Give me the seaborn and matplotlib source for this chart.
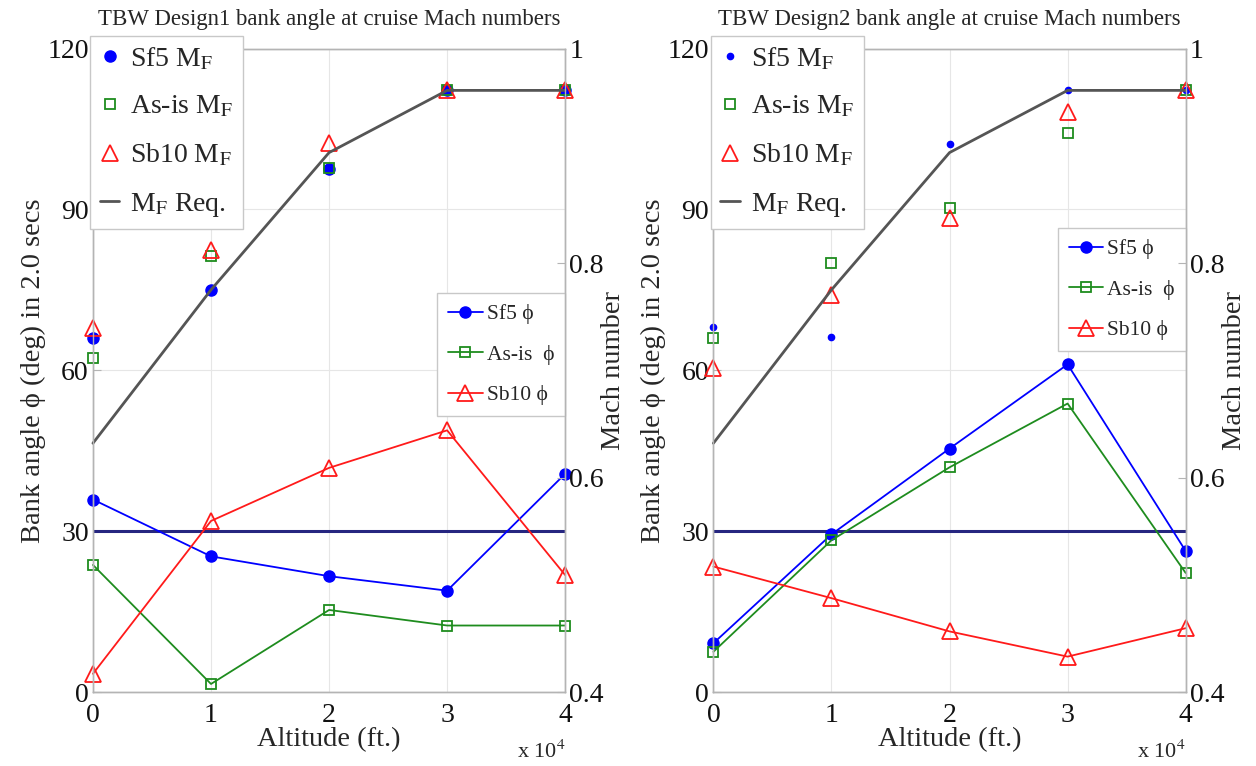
import numpy as np
import pandas as pd
import matplotlib
matplotlib.use("Agg")
import matplotlib.pyplot as plt
import seaborn as sns

# ---------------- data ----------------
altitude_ft = [0, 10000, 20000, 30000, 40000]
mach_req = [0.632, 0.775, 0.903, 0.961, 0.961]

# Design 1
d1_sf5_phi = [35.9, 25.3, 21.6, 18.9, 40.7]
d1_asis_phi = [23.7, 1.5, 15.3, 12.4, 12.4]
d1_sb10_phi = [3.4, 31.9, 41.8, 48.8, 21.8]
d1_sf5_mf = [0.730, 0.775, 0.888, 0.961, 0.961]
d1_asis_mf = [0.711, 0.807, 0.889, 0.961, 0.961]
d1_sb10_mf = [0.739, 0.812, 0.912, 0.961, 0.961]

# Design 2
d2_sf5_phi = [9.1, 29.4, 45.4, 61.1, 26.3]
d2_asis_phi = [7.5, 28.3, 41.9, 53.8, 22.2]
d2_sb10_phi = [23.4, 17.5, 11.3, 6.6, 11.9]
d2_sf5_mf = [0.740, 0.731, 0.911, 0.961, 0.961]
d2_asis_mf = [0.730, 0.800, 0.851, 0.921, 0.961]
d2_sb10_mf = [0.702, 0.770, 0.842, 0.941, 0.961]

phi_limit = 30
titles = ["TBW Design1 bank angle at cruise Mach numbers",
          "TBW Design2 bank angle at cruise Mach numbers"]
y_ticks = [0, 30, 60, 90, 120]
mach_ticks = [0.4, 0.6, 0.8, 1.0]
mach_ticklabels = ["0.4", "0.6", "0.8", "1"]
x_ticks = [0, 1, 2, 3, 4]

# ---------------- style ----------------
sns.set_style("white")
plt.rcParams["font.family"] = ["Liberation Serif", "DejaVu Serif"]
plt.rcParams["mathtext.fontset"] = "stix"

BLUE = "#0000ff"
GREEN = "#1e8c1e"
RED = "#ff1a1a"
GRAY = "#555555"
NAVY = "#262680"
SPINE = "#b4b4b4"

fig = plt.figure(figsize=(12.56, 7.66), dpi=100)
positions = [[0.074, 0.0966, 0.376, 0.840], [0.568, 0.0966, 0.376, 0.840]]

designs = [
    (d1_sf5_phi, d1_asis_phi, d1_sb10_phi, d1_sf5_mf, d1_asis_mf, d1_sb10_mf),
    (d2_sf5_phi, d2_asis_phi, d2_sb10_phi, d2_sf5_mf, d2_asis_mf, d2_sb10_mf),
]
sf5_mf_size = [8, 4.5]
phi_leg_anchor = [(1.0, 0.6196), (1.0, 0.7205)]

x = np.array(altitude_ft) / 1e4

for i, (sf5, asis, sb10, sf5m, asism, sb10m) in enumerate(designs):
    ax = fig.add_axes(positions[i])
    ax2 = ax.twinx()

    # phi lines
    sns.lineplot(x=x, y=sf5, ax=ax, color=BLUE, lw=1.3, marker="o",
                 markersize=8, markerfacecolor=BLUE, markeredgecolor=BLUE,
                 markeredgewidth=1, label="Sf5 ϕ", clip_on=False)
    sns.lineplot(x=x, y=asis, ax=ax, color=GREEN, lw=1.3, marker="s",
                 markersize=7.5, markerfacecolor="none", markeredgecolor=GREEN,
                 markeredgewidth=1.3, label="As-is  ϕ", clip_on=False)
    sns.lineplot(x=x, y=sb10, ax=ax, color=RED, lw=1.3, marker="^",
                 markersize=12, markerfacecolor="none", markeredgecolor=RED,
                 markeredgewidth=1.3, label="Sb10 ϕ", clip_on=False)
    ax.axhline(phi_limit, color=NAVY, lw=2.2, zorder=1)

    # Mach points
    sns.lineplot(x=x, y=sf5m, ax=ax2, color=BLUE, linestyle="none", marker="o",
                 markersize=sf5_mf_size[i], markerfacecolor=BLUE,
                 markeredgecolor=BLUE, markeredgewidth=1,
                 label="Sf5 M$_\\mathrm{F}$", clip_on=False)
    sns.lineplot(x=x, y=asism, ax=ax2, color=GREEN, linestyle="none", marker="s",
                 markersize=7.5, markerfacecolor="none", markeredgecolor=GREEN,
                 markeredgewidth=1.3, label="As-is M$_\\mathrm{F}$", clip_on=False)
    sns.lineplot(x=x, y=sb10m, ax=ax2, color=RED, linestyle="none", marker="^",
                 markersize=12, markerfacecolor="none", markeredgecolor=RED,
                 markeredgewidth=1.3, label="Sb10 M$_\\mathrm{F}$", clip_on=False)
    sns.lineplot(x=x, y=mach_req, ax=ax2, color=GRAY, lw=2,
                 label="M$_\\mathrm{F}$ Req.", clip_on=False)

    ax.set_xlim(0, 4)
    ax.set_ylim(0, 120)
    ax2.set_ylim(0.4, 1.0)
    ax.set_xticks(x_ticks)
    ax.set_yticks(y_ticks)
    ax2.set_yticks(mach_ticks)
    ax2.set_yticklabels(mach_ticklabels)

    ax.grid(True, color="#e6e6e6", lw=0.8)
    for a in (ax, ax2):
        for s in a.spines.values():
            s.set_color(SPINE)
            s.set_linewidth(1)
        a.tick_params(direction="in", length=6, color=SPINE, labelsize=20,
                      labelcolor="#111111", pad=3)
    ax.tick_params(axis="x", pad=8)

    ax.set_xlabel("Altitude (ft.)", fontsize=20.5, labelpad=-1)
    ax.set_ylabel("Bank angle ϕ (deg) in 2.0 secs", fontsize=20.5, labelpad=1)
    ax2.set_ylabel("Mach number", fontsize=20.5, labelpad=-2)
    ax.set_title(titles[i], fontsize=16.5, pad=17)

    ax.text(1.0, -0.093, "x 10$^4$", transform=ax.transAxes, ha="right",
            va="center", fontsize=16)

    # legends
    ax.legend(loc="upper right", bbox_to_anchor=phi_leg_anchor[i], fontsize=15.5,
              frameon=True, fancybox=False, edgecolor="#c8c8c8",
              handlelength=1.6, handletextpad=0.2, borderpad=0.5,
              labelspacing=0.95, borderaxespad=0, framealpha=1)
    ax2.legend(loc="upper left", bbox_to_anchor=(-0.006, 1.02), fontsize=20,
               frameon=True, fancybox=False, edgecolor="#c8c8c8",
               handlelength=0.7, handletextpad=0.4, borderpad=0.35,
               labelspacing=0.8, borderaxespad=0, framealpha=1)
    ax.set_zorder(0)
    ax2.set_zorder(1)
    ax2.patch.set_visible(False)

fig.savefig("out.png", dpi=100)
